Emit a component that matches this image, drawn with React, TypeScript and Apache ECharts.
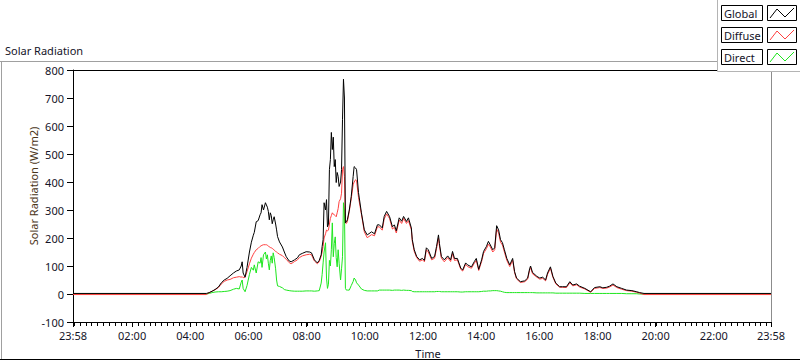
import React, { useEffect, useRef } from "react";
import * as echarts from "echarts";

// ---- Data ----
const times: string[] = [
  "23:58", "04:33", "04:39", "04:45", "04:51", "04:58", "05:04", "05:10", "05:16", "05:22",
  "05:29", "05:35", "05:41", "05:45", "05:47", "05:49", "05:53", "05:57", "06:02", "06:06",
  "06:10", "06:12", "06:16", "06:20", "06:24", "06:26", "06:28", "06:31", "06:35", "06:37",
  "06:39", "06:41", "06:43", "06:45", "06:47", "06:49", "06:51", "06:53", "06:56", "06:58",
  "07:00", "07:04", "07:10", "07:14", "07:18", "07:24", "07:28", "07:35", "07:41", "07:45",
  "07:51", "07:59", "08:06", "08:10", "08:16", "08:22", "08:26", "08:30", "08:32", "08:34",
  "08:36", "08:39", "08:41", "08:43", "08:45", "08:47", "08:49", "08:51", "08:53", "08:55",
  "08:57", "08:59", "09:01", "09:03", "09:05", "09:07", "09:10", "09:12", "09:14", "09:16",
  "09:18", "09:20", "09:22", "09:24", "09:28", "09:32", "09:36", "09:38", "09:41", "09:43",
  "09:47", "09:53", "09:59", "10:05", "10:14", "10:20", "10:26", "10:30", "10:36", "10:40",
  "10:45", "10:51", "10:57", "11:01", "11:05", "11:11", "11:16", "11:20", "11:26", "11:30",
  "11:36", "11:38", "11:42", "11:47", "11:53", "11:59", "12:03", "12:07", "12:11", "12:18",
  "12:24", "12:28", "12:32", "12:34", "12:38", "12:44", "12:51", "12:57", "13:01", "13:05",
  "13:11", "13:18", "13:22", "13:28", "13:32", "13:40", "13:46", "13:50", "13:55", "14:01",
  "14:05", "14:11", "14:15", "14:19", "14:24", "14:28", "14:32", "14:36", "14:40", "14:44",
  "14:48", "14:53", "14:59", "15:05", "15:09", "15:13", "15:21", "15:30", "15:36", "15:40",
  "15:42", "15:46", "15:55", "16:01", "16:07", "16:13", "16:17", "16:23", "16:28", "16:34",
  "16:42", "16:48", "16:56", "17:03", "17:09", "17:17", "17:23", "17:34", "17:46", "17:54",
  "18:05", "18:11", "18:19", "18:25", "18:32", "18:40", "18:50", "19:00", "19:11", "19:21",
  "19:27", "19:36", "23:58",
];

const globalRad: number[] = [
  2, 2, 5, 10, 16, 25, 40, 50, 56, 65,
  75, 82, 86, 100, 115, 75, 60, 95, 150, 185,
  210, 220, 258, 262, 283, 290, 319, 300, 326, 318,
  310, 295, 265, 290, 280, 251, 265, 276, 250, 229,
  205, 186, 168, 150, 133, 118, 115, 122, 129, 140,
  145, 151, 150, 147, 122, 111, 120, 140, 170, 194,
  326, 300, 337, 240, 250, 444, 480, 577, 516, 560,
  455, 480, 398, 434, 420, 384, 400, 444, 624, 767,
  700, 254, 258, 265, 300, 348, 420, 455, 450, 444,
  362, 290, 229, 211, 222, 215, 247, 247, 236, 277,
  295, 277, 240, 247, 226, 272, 260, 277, 259, 272,
  236, 194, 158, 134, 122, 127, 120, 165, 158, 127,
  134, 170, 211, 180, 134, 122, 136, 122, 152, 127,
  127, 92, 86, 111, 104, 97, 116, 127, 88, 122,
  152, 170, 188, 175, 158, 165, 244, 229, 194, 183,
  158, 127, 104, 127, 80, 57, 44, 47, 57, 90,
  100, 77, 63, 57, 60, 50, 75, 97, 63, 39,
  26, 26, 26, 44, 32, 36, 28, 20, 8, 23,
  26, 22, 24, 28, 36, 26, 20, 14, 12, 8,
  5, 2, 2,
];

const diffuseRad: number[] = [
  -2, -2, 5, 10, 15, 23, 36, 45, 50, 52,
  58, 60, 62, 60, 62, 58, 60, 80, 108, 128,
  142, 148, 158, 163, 170, 172, 174, 176, 176, 176,
  174, 172, 168, 166, 165, 163, 160, 157, 152, 150,
  147, 142, 137, 130, 124, 112, 108, 116, 122, 130,
  136, 140, 142, 140, 118, 108, 115, 135, 150, 170,
  200, 215, 229, 225, 228, 250, 270, 280, 290, 285,
  283, 280, 276, 290, 305, 330, 340, 360, 444, 455,
  420, 254, 252, 258, 295, 340, 390, 400, 408, 405,
  345, 285, 222, 201, 212, 208, 240, 240, 228, 268,
  286, 270, 232, 238, 218, 264, 252, 270, 252, 262,
  230, 188, 152, 130, 117, 122, 115, 158, 150, 122,
  128, 162, 200, 172, 128, 115, 130, 116, 145, 120,
  122, 88, 82, 106, 98, 92, 110, 120, 84, 116,
  145, 162, 178, 168, 150, 158, 232, 218, 185, 175,
  150, 120, 98, 120, 76, 54, 41, 44, 53, 85,
  95, 72, 60, 53, 56, 47, 70, 92, 60, 36,
  24, 24, 23, 40, 29, 33, 25, 18, 6, 20,
  23, 20, 21, 25, 32, 23, 17, 12, 10, 6,
  3, -2, -2,
];

const directRad: number[] = [
  0, 0, 2, 5, 7, 8, 8, 9, 10, 12,
  17, 20, 18, 42, 50, 20, 8, 30, 70, 95,
  85, 104, 75, 115, 110, 130, 95, 140, 150, 125,
  140, 110, 86, 120, 136, 110, 147, 130, 90, 50,
  29, 27, 22, 16, 14, 12, 11, 10, 10, 10,
  10, 11, 11, 11, 10, 11, 12, 39, 70, 111,
  150, 183, 57, 20, 35, 120, 100, 158, 254, 133,
  180, 204, 130, 97, 158, 110, 50, 90, 133, 326,
  300, 20, 14, 14, 14, 30, 45, 57, 50, 40,
  32, 18, 13, 11, 11, 11, 11, 14, 14, 14,
  14, 14, 13, 14, 14, 14, 13, 14, 13, 13,
  12, 9, 8, 8, 8, 8, 8, 8, 8, 8,
  8, 9, 9, 9, 8, 8, 8, 8, 8, 8,
  8, 7, 7, 8, 8, 8, 8, 8, 8, 9,
  10, 10, 11, 11, 12, 12, 12, 11, 10, 8,
  6, 5, 5, 5, 5, 5, 5, 5, 5, 5,
  5, 5, 4, 4, 4, 4, 4, 4, 4, 3,
  3, 3, 3, 3, 3, 3, 3, 2, 2, 2,
  2, 2, 2, 2, 2, 2, 2, 1, 1, 1,
  0, 0, 0,
];

const xTickLabels: string[] = [
  "23:58", "02:00", "04:00", "06:00", "08:00", "10:00", "12:00",
  "14:00", "16:00", "18:00", "20:00", "22:00", "23:58",
];

const yTicks: number[] = [-100, 0, 100, 200, 300, 400, 500, 600, 700, 800];

const seriesNames = ["Global", "Diffuse", "Direct"];
const seriesColors = ["#000000", "#ff4040", "#1ee61e"];

// ---- helpers ----
const toMin = (s: string) => {
  const [h, m] = s.split(":").map(Number);
  return h * 60 + m;
};
const minutes: number[] = times.map((t, i) => {
  const v = toMin(t);
  return i === 0 && v > toMin(times[1]) ? v - 1440 : v;
});
const majorTicks: number[] = xTickLabels.map((t, i) => {
  const v = toMin(t);
  return i === 0 ? v - 1440 : v;
});
const X_MIN = majorTicks[0];
const X_MAX = majorTicks[majorTicks.length - 1];
const Y_MIN = yTicks[0];
const Y_MAX = yTicks[yTicks.length - 1];
const MINOR_STEP = 12;
const minorTicks: number[] = [];
for (let m = 0; m <= X_MAX; m += MINOR_STEP) minorTicks.push(m);

const pad = (n: number) => (n < 10 ? "0" + n : "" + n);
const fmtTime = (v: number) => {
  const m = ((Math.round(v) % 1440) + 1440) % 1440;
  return pad(Math.floor(m / 60)) + ":" + pad(m % 60);
};

const FONT = "Noto Sans";
const TEXT = "#141428";
const GRID = { left: 73, right: 29, top: 70, bottom: 39 };
const W = 800;
const H = 361;

export default function App() {
  const ref = useRef<HTMLDivElement>(null);
  useEffect(() => {
    document.body.style.margin = "0";
    if (!ref.current) return;
    const chart = echarts.init(ref.current, null, { renderer: "svg" });

    const mk = (vals: number[]) => minutes.map((t, i) => [t, vals[i]]);
    const valueSets = [globalRad, diffuseRad, directRad];

    const legendItems: any[] = [];
    seriesNames.forEach((name, i) => {
      const y0 = 5.5 + i * 22;
      legendItems.push(
        { type: "rect", shape: { x: 721.5, y: y0, width: 41, height: 15 }, style: { fill: "#fff", stroke: "#000", lineWidth: 1 }, z: 101 },
        { type: "text", x: 724, y: y0 + 7.5, style: { text: name, fill: TEXT, font: `11px "${FONT}"`, textVerticalAlign: "middle" }, z: 102 },
        { type: "rect", shape: { x: 767.5, y: y0, width: 29, height: 15 }, style: { fill: "#fff", stroke: "#000", lineWidth: 1 }, z: 101 },
        {
          type: "polyline",
          shape: { points: [[770, y0 + 12.5], [777, y0 + 3.5], [785, y0 + 11.5], [794, y0 + 2.5]] },
          style: { stroke: seriesColors[i], lineWidth: 1, fill: null },
          z: 102,
        }
      );
    });

    // minor ticks (axis decoration), placed with the x scale of the axis
    const plotW = W - GRID.left - GRID.right;
    const yBottom = H - GRID.bottom;
    const minorEls = minorTicks.map((m) => {
      let px: any = NaN;
      try {
        px = chart.convertToPixel({ xAxisIndex: 0 }, m);
      } catch (e) {
        px = NaN;
      }
      if (Array.isArray(px)) px = px[0];
      if (typeof px !== "number" || !isFinite(px)) px = GRID.left + ((m - X_MIN) / (X_MAX - X_MIN)) * plotW;
      return {
        type: "rect",
        shape: { x: Math.round(px), y: yBottom, width: 1, height: 4 },
        style: { fill: "#000", stroke: null },
        z: 60,
      };
    });

    const graphic: any[] = [
      { type: "line", shape: { x1: 0, y1: 61.5, x2: 717, y2: 61.5 }, style: { stroke: "#a0a0a0", lineWidth: 1 }, z: 50 },
      { type: "line", shape: { x1: 1.5, y1: 61, x2: 1.5, y2: 359 }, style: { stroke: "#a0a0a0", lineWidth: 1 }, z: 50 },
      { type: "line", shape: { x1: 0, y1: 359.5, x2: 800, y2: 359.5 }, style: { stroke: "#000", lineWidth: 1 }, z: 50 },
      { type: "line", shape: { x1: 73, y1: 70.5, x2: 771, y2: 70.5 }, style: { stroke: "#000", lineWidth: 1 }, z: 50 },
      { type: "line", shape: { x1: 771.5, y1: 70, x2: 771.5, y2: 322 }, style: { stroke: "#8c8c8c", lineWidth: 1 }, z: 50 },
      { type: "text", x: 5, y: 50, style: { text: "Solar Radiation", fill: TEXT, font: `11px "${FONT}"`, textVerticalAlign: "middle" }, z: 50 },
      { type: "text", x: 428, y: 353, style: { text: "Time", fill: TEXT, font: `11px "${FONT}"`, textAlign: "center", textVerticalAlign: "middle" }, z: 50 },
      {
        type: "text",
        x: 33,
        y: 186,
        rotation: Math.PI / 2,
        style: { text: "Solar Radiation (W/m2)", fill: "#4a3418", font: `11px "${FONT}"`, textAlign: "center", textVerticalAlign: "middle" },
        z: 50,
      },
      { type: "rect", shape: { x: 717.5, y: -0.5, width: 84, height: 72 }, style: { fill: "#fff", stroke: "#b4b4b4", lineWidth: 1 }, z: 100 },
      ...legendItems,
    ];

    const option: any = {
      animation: false,
      backgroundColor: "#ffffff",
      grid: { ...GRID, containLabel: false },
      xAxis: {
        type: "value",
        min: X_MIN,
        max: X_MAX,
        axisLine: { show: true, onZero: false, lineStyle: { color: "#000", width: 1 } },
        axisTick: { show: true, customValues: majorTicks, length: 5, lineStyle: { color: "#000" } },
        axisLabel: {
          customValues: majorTicks,
          formatter: (v: number) => fmtTime(v),
          color: TEXT,
          fontSize: 11,
          fontFamily: FONT,
          margin: 8,
        },
        splitLine: { show: false },
      },
      yAxis: {
        type: "value",
        min: Y_MIN,
        max: Y_MAX,
        interval: 100,
        axisLine: { show: true, onZero: false, lineStyle: { color: "#000", width: 1 } },
        axisTick: { show: true, length: 6, lineStyle: { color: "#000" } },
        axisLabel: { color: TEXT, fontSize: 11, fontFamily: FONT, margin: 9 },
        splitLine: { show: false },
      },
      series: [2, 1, 0].map((i) => ({
        name: seriesNames[i],
        type: "line",
        showSymbol: false,
        symbol: "none",
        data: mk(valueSets[i]),
        lineStyle: { color: seriesColors[i], width: 1 },
        itemStyle: { color: seriesColors[i] },
        z: 3 - i,
      })),
      graphic: graphic,
    };
    chart.setOption(option);
    // recompute tick positions now that the axis exists
    const minorEls2 = minorTicks.map((m, k) => {
      let px: any = chart.convertToPixel({ xAxisIndex: 0 }, m);
      if (Array.isArray(px)) px = px[0];
      if (typeof px !== "number" || !isFinite(px)) return minorEls[k];
      return {
        type: "rect",
        shape: { x: Math.round(px), y: yBottom, width: 1, height: 4 },
        style: { fill: "#000", stroke: null },
        z: 60,
      };
    });
    chart.setOption({ graphic: [...graphic, ...minorEls2] });

    return () => chart.dispose();
  }, []);
  return <div ref={ref} style={{ position: "fixed", left: 0, top: 0, width: W, height: H }} />;
}
